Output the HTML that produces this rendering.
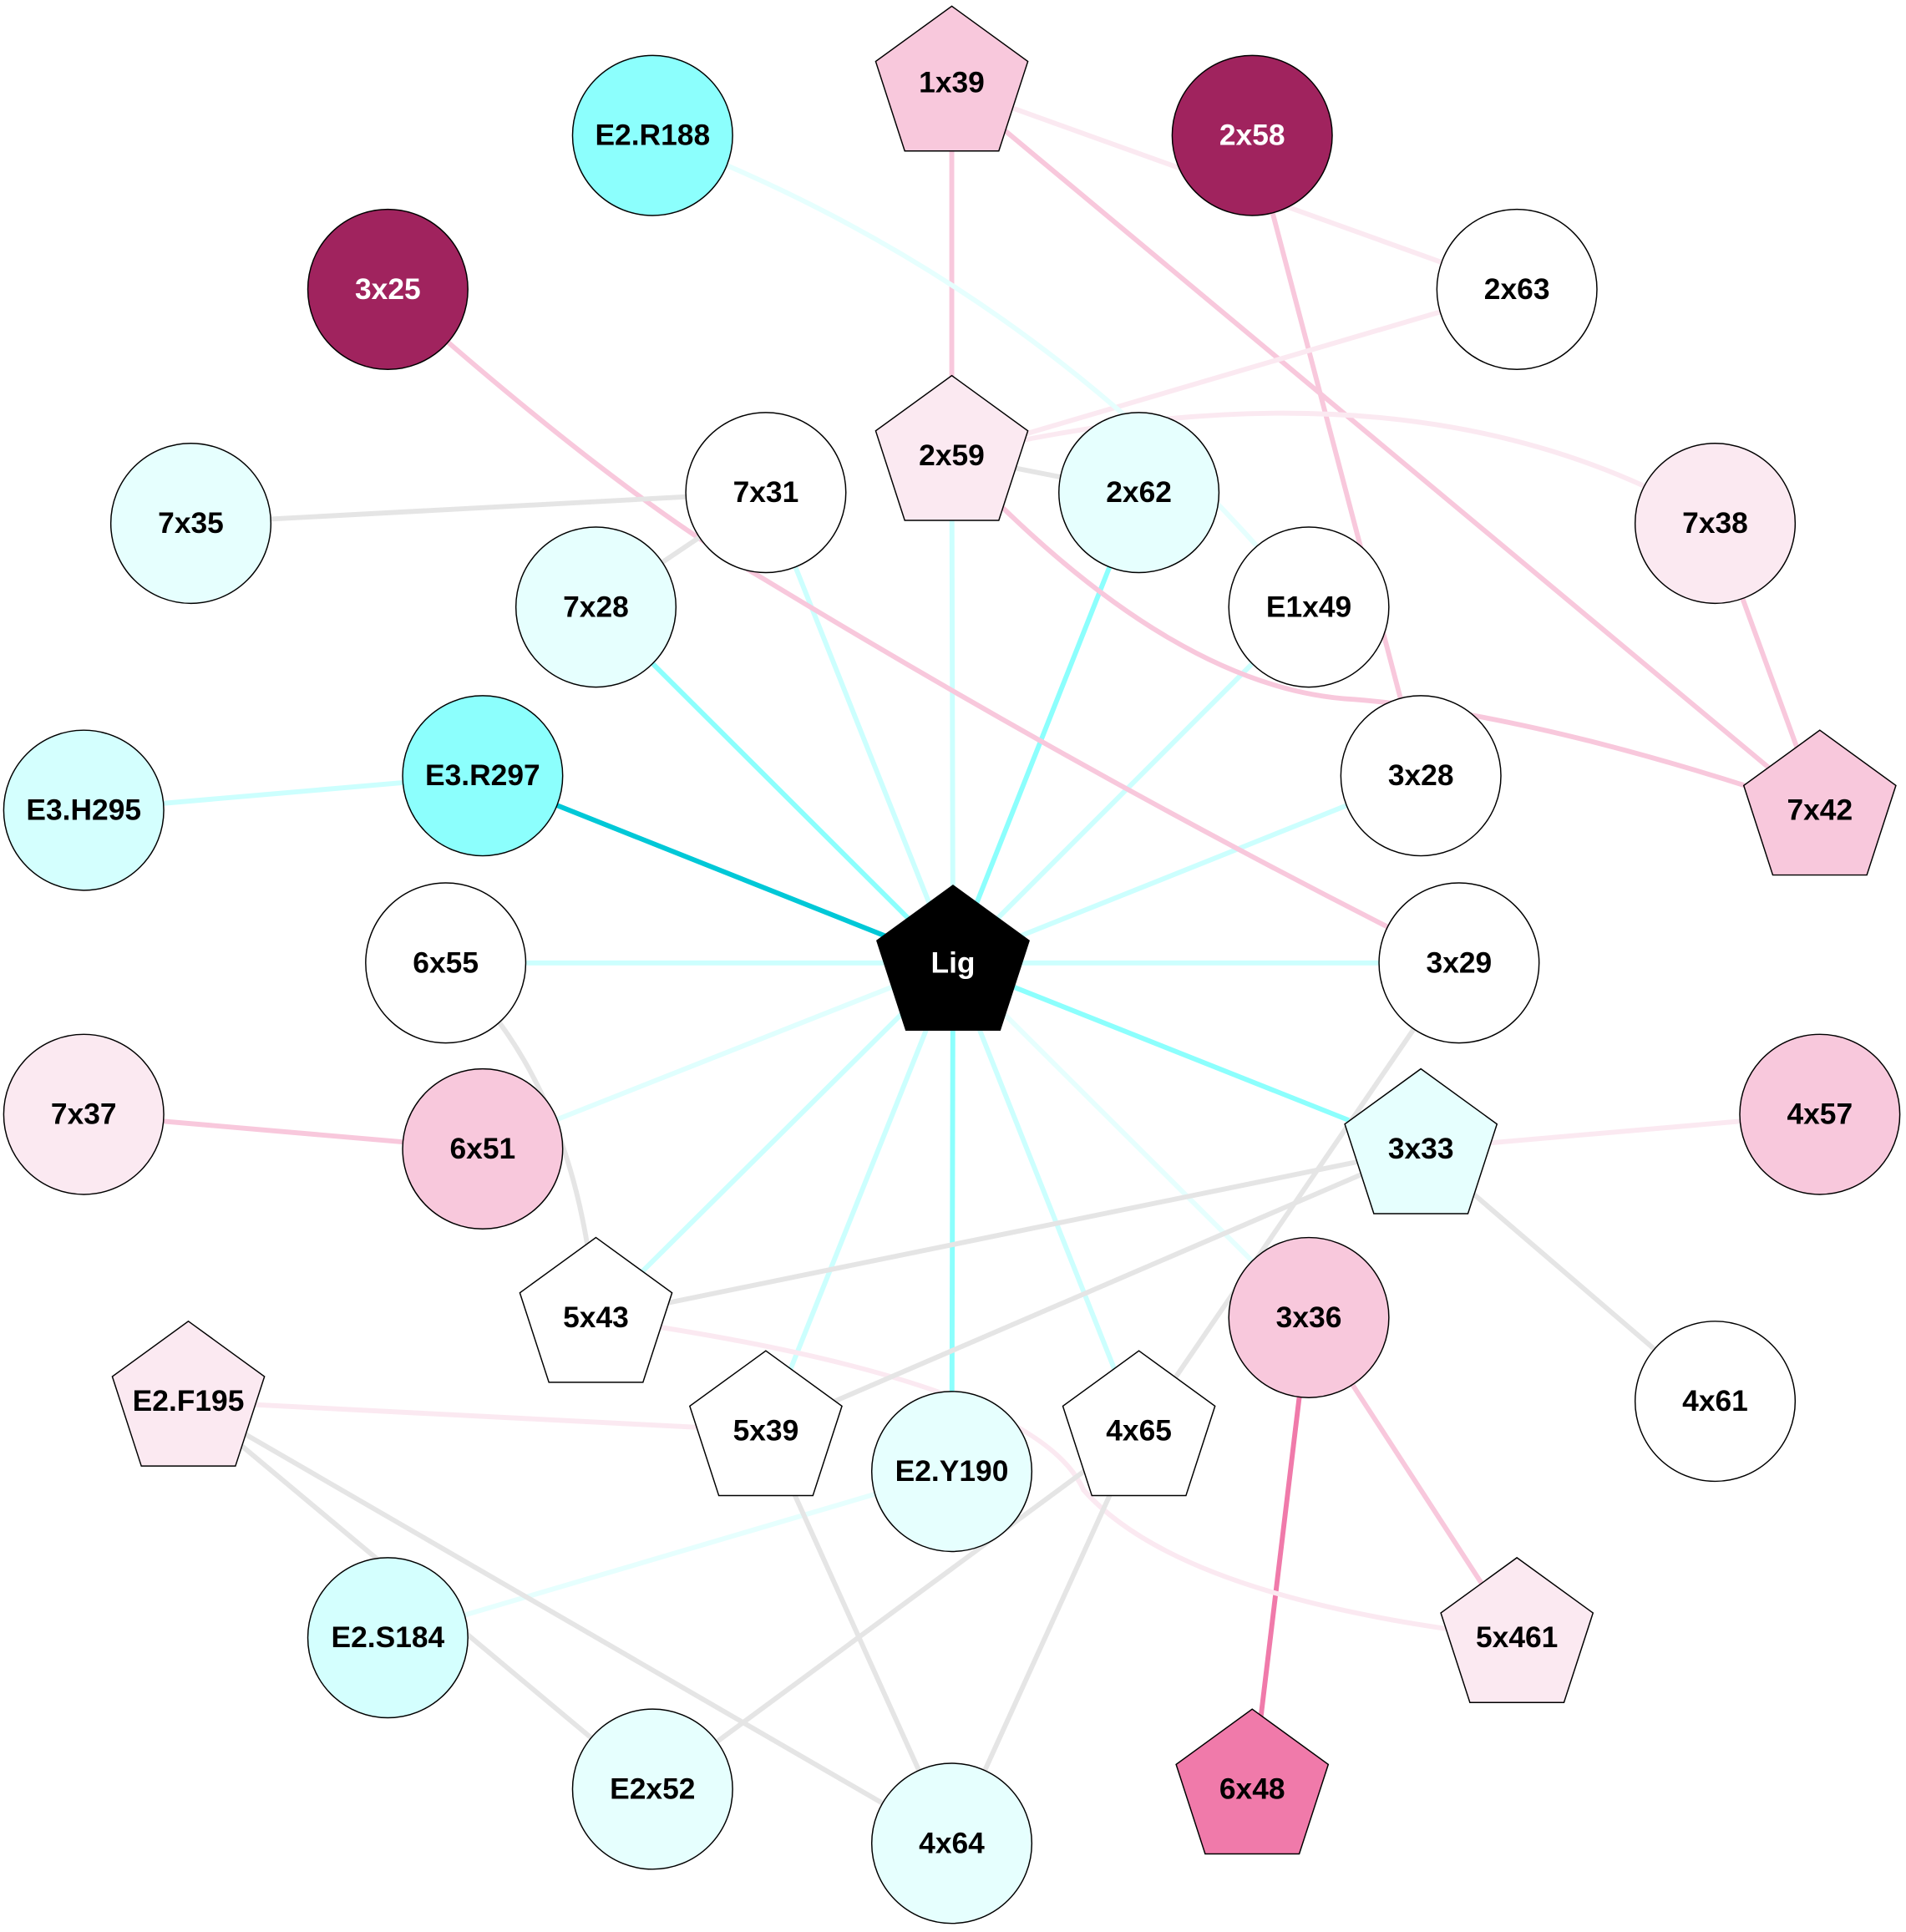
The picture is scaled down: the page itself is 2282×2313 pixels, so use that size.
<!DOCTYPE html>
<html><head><meta charset="utf-8"><style>
html,body{margin:0;padding:0;background:#fff}
svg{display:block}
text{font-family:"Liberation Sans",Arial,sans-serif;font-weight:bold;font-size:24px;text-anchor:middle;dominant-baseline:central}
</style></head><body>
<svg width="2282" height="2313" viewBox="0 0 1548 1569" preserveAspectRatio="none" xmlns="http://www.w3.org/2000/svg">
<g fill="none" stroke-width="4">
<line x1="774" y1="782" x2="773" y2="370" stroke="#ccfffe"/>
<line x1="774" y1="782" x2="622" y2="400" stroke="#ccfffe"/>
<line x1="774" y1="782" x2="925" y2="400" stroke="#8cfffd"/>
<line x1="774" y1="782" x2="484" y2="493" stroke="#8cfffd"/>
<line x1="774" y1="782" x2="1063" y2="493" stroke="#ccfffe"/>
<line x1="774" y1="782" x2="1154" y2="630" stroke="#ccfffe"/>
<line x1="774" y1="782" x2="392" y2="630" stroke="#00c8d7"/>
<line x1="774" y1="782" x2="362" y2="782" stroke="#ccfffe"/>
<line x1="774" y1="782" x2="1185" y2="782" stroke="#ccfffe"/>
<line x1="774" y1="782" x2="392" y2="933" stroke="#e0fffe"/>
<line x1="774" y1="782" x2="1154" y2="933" stroke="#8cfffd"/>
<line x1="774" y1="782" x2="484" y2="1070" stroke="#ccfffe"/>
<line x1="774" y1="782" x2="622" y2="1162" stroke="#ccfffe"/>
<line x1="774" y1="782" x2="773" y2="1195" stroke="#8cfffd"/>
<line x1="774" y1="782" x2="925" y2="1162" stroke="#ccfffe"/>
<line x1="774" y1="782" x2="1063" y2="1070" stroke="#e6fffe"/>
<line x1="773" y1="70" x2="773" y2="370" stroke="#f8c8dc"/>
<line x1="773" y1="70" x2="1232" y2="235" stroke="#fbe9f1"/>
<line x1="773" y1="70" x2="1478" y2="658" stroke="#f8c8dc"/>
<line x1="1017" y1="110" x2="1154" y2="630" stroke="#f8c8dc"/>
<line x1="1232" y1="235" x2="773" y2="370" stroke="#fbe9f1"/>
<path d="M773 370 Q1150 280 1393 425" stroke="#fbe9f1"/>
<path d="M773 370 Q950 560 1100 568 Q1250 580 1478 658" stroke="#f8c8dc"/>
<path d="M315 235 Q500 400 620 470 Q900 640 1185 782" stroke="#f8c8dc"/>
<path d="M530 110 Q850 230 1063 493" stroke="#e6fffe"/>
<line x1="1393" y1="425" x2="1478" y2="658" stroke="#f8c8dc"/>
<line x1="68" y1="905" x2="392" y2="933" stroke="#f8c8dc"/>
<line x1="1154" y1="933" x2="1478" y2="905" stroke="#fbe9f1"/>
<line x1="1063" y1="1070" x2="1017" y2="1453" stroke="#f07aaa"/>
<line x1="1063" y1="1070" x2="1232" y2="1330" stroke="#f8c8dc"/>
<path d="M484 1070 Q840 1120 880 1210 Q960 1300 1232 1330" stroke="#fbe9f1"/>
<line x1="153" y1="1138" x2="622" y2="1162" stroke="#fbe9f1"/>
<line x1="68" y1="658" x2="392" y2="630" stroke="#ccfffe"/>
<line x1="773" y1="1195" x2="315" y2="1330" stroke="#e6fffe"/>
<line x1="155" y1="425" x2="622" y2="400" stroke="#e5e5e5"/>
<line x1="622" y1="400" x2="484" y2="493" stroke="#e5e5e5"/>
<line x1="773" y1="370" x2="925" y2="400" stroke="#e5e5e5"/>
<path d="M362 782 Q470 880 484 1070" stroke="#e5e5e5"/>
<line x1="1154" y1="933" x2="484" y2="1070" stroke="#e5e5e5"/>
<line x1="1154" y1="933" x2="622" y2="1162" stroke="#e5e5e5"/>
<line x1="1154" y1="933" x2="1393" y2="1138" stroke="#e5e5e5"/>
<line x1="1185" y1="782" x2="925" y2="1162" stroke="#e5e5e5"/>
<line x1="153" y1="1138" x2="530" y2="1453" stroke="#e5e5e5"/>
<line x1="153" y1="1138" x2="773" y2="1497" stroke="#e5e5e5"/>
<line x1="925" y1="1162" x2="530" y2="1453" stroke="#e5e5e5"/>
<line x1="925" y1="1162" x2="773" y2="1497" stroke="#e5e5e5"/>
<line x1="622" y1="1162" x2="773" y2="1497" stroke="#e5e5e5"/>
</g>
<g stroke="#000" stroke-width="1">
<circle cx="530" cy="110" r="65" fill="#8cfffd"/>
<circle cx="1017" cy="110" r="65" fill="#a0235e"/>
<circle cx="315" cy="235" r="65" fill="#a0235e"/>
<circle cx="1232" cy="235" r="65" fill="#fff"/>
<circle cx="622" cy="400" r="65" fill="#fff"/>
<circle cx="925" cy="400" r="65" fill="#e6fffe"/>
<circle cx="155" cy="425" r="65" fill="#e6fffe"/>
<circle cx="1393" cy="425" r="65" fill="#fbe9f1"/>
<circle cx="484" cy="493" r="65" fill="#e6fffe"/>
<circle cx="1063" cy="493" r="65" fill="#fff"/>
<circle cx="392" cy="630" r="65" fill="#8cfffd"/>
<circle cx="1154" cy="630" r="65" fill="#fff"/>
<circle cx="68" cy="658" r="65" fill="#d4fffe"/>
<circle cx="362" cy="782" r="65" fill="#fff"/>
<circle cx="1185" cy="782" r="65" fill="#fff"/>
<circle cx="68" cy="905" r="65" fill="#fbe9f1"/>
<circle cx="392" cy="933" r="65" fill="#f8c8dc"/>
<circle cx="1478" cy="905" r="65" fill="#f8c8dc"/>
<circle cx="1063" cy="1070" r="65" fill="#f8c8dc"/>
<circle cx="1393" cy="1138" r="65" fill="#fff"/>
<circle cx="773" cy="1195" r="65" fill="#e6fffe"/>
<circle cx="315" cy="1330" r="65" fill="#d4fffe"/>
<circle cx="530" cy="1453" r="65" fill="#e6fffe"/>
<circle cx="773" cy="1497" r="65" fill="#e6fffe"/>
<polygon transform="translate(773,70)" points="0,-65 61.8,-20.1 38.2,52.6 -38.2,52.6 -61.8,-20.1" fill="#f8c8dc"/>
<polygon transform="translate(773,370)" points="0,-65 61.8,-20.1 38.2,52.6 -38.2,52.6 -61.8,-20.1" fill="#fbe9f1"/>
<polygon transform="translate(1478,658)" points="0,-65 61.8,-20.1 38.2,52.6 -38.2,52.6 -61.8,-20.1" fill="#f8c8dc"/>
<polygon transform="translate(774,784)" points="0,-65 61.8,-20.1 38.2,52.6 -38.2,52.6 -61.8,-20.1" fill="#000"/>
<polygon transform="translate(1154,933)" points="0,-65 61.8,-20.1 38.2,52.6 -38.2,52.6 -61.8,-20.1" fill="#e6fffe"/>
<polygon transform="translate(484,1070)" points="0,-65 61.8,-20.1 38.2,52.6 -38.2,52.6 -61.8,-20.1" fill="#fff"/>
<polygon transform="translate(153,1138)" points="0,-65 61.8,-20.1 38.2,52.6 -38.2,52.6 -61.8,-20.1" fill="#fbe9f1"/>
<polygon transform="translate(622,1162)" points="0,-65 61.8,-20.1 38.2,52.6 -38.2,52.6 -61.8,-20.1" fill="#fff"/>
<polygon transform="translate(925,1162)" points="0,-65 61.8,-20.1 38.2,52.6 -38.2,52.6 -61.8,-20.1" fill="#fff"/>
<polygon transform="translate(1232,1330)" points="0,-65 61.8,-20.1 38.2,52.6 -38.2,52.6 -61.8,-20.1" fill="#fbe9f1"/>
<polygon transform="translate(1017,1453)" points="0,-65 61.8,-20.1 38.2,52.6 -38.2,52.6 -61.8,-20.1" fill="#f07aaa"/>
</g>
<g fill="#000">
<text x="530" y="110">E2.R188</text>
<text x="1017" y="110" fill="#fff">2x58</text>
<text x="315" y="235" fill="#fff">3x25</text>
<text x="1232" y="235">2x63</text>
<text x="622" y="400">7x31</text>
<text x="925" y="400">2x62</text>
<text x="155" y="425">7x35</text>
<text x="1393" y="425">7x38</text>
<text x="484" y="493">7x28</text>
<text x="1063" y="493">E1x49</text>
<text x="392" y="630">E3.R297</text>
<text x="1154" y="630">3x28</text>
<text x="68" y="658">E3.H295</text>
<text x="362" y="782">6x55</text>
<text x="1185" y="782">3x29</text>
<text x="68" y="905">7x37</text>
<text x="392" y="933">6x51</text>
<text x="1478" y="905">4x57</text>
<text x="1063" y="1070">3x36</text>
<text x="1393" y="1138">4x61</text>
<text x="773" y="1195">E2.Y190</text>
<text x="315" y="1330">E2.S184</text>
<text x="530" y="1453">E2x52</text>
<text x="773" y="1497">4x64</text>
<text x="773" y="67">1x39</text>
<text x="773" y="370">2x59</text>
<text x="1478" y="658">7x42</text>
<text x="774" y="782" fill="#fff">Lig</text>
<text x="1154" y="933">3x33</text>
<text x="484" y="1070">5x43</text>
<text x="153" y="1138">E2.F195</text>
<text x="622" y="1162">5x39</text>
<text x="925" y="1162">4x65</text>
<text x="1232" y="1330">5x461</text>
<text x="1017" y="1453">6x48</text>
</g>
</svg>
</body></html>
